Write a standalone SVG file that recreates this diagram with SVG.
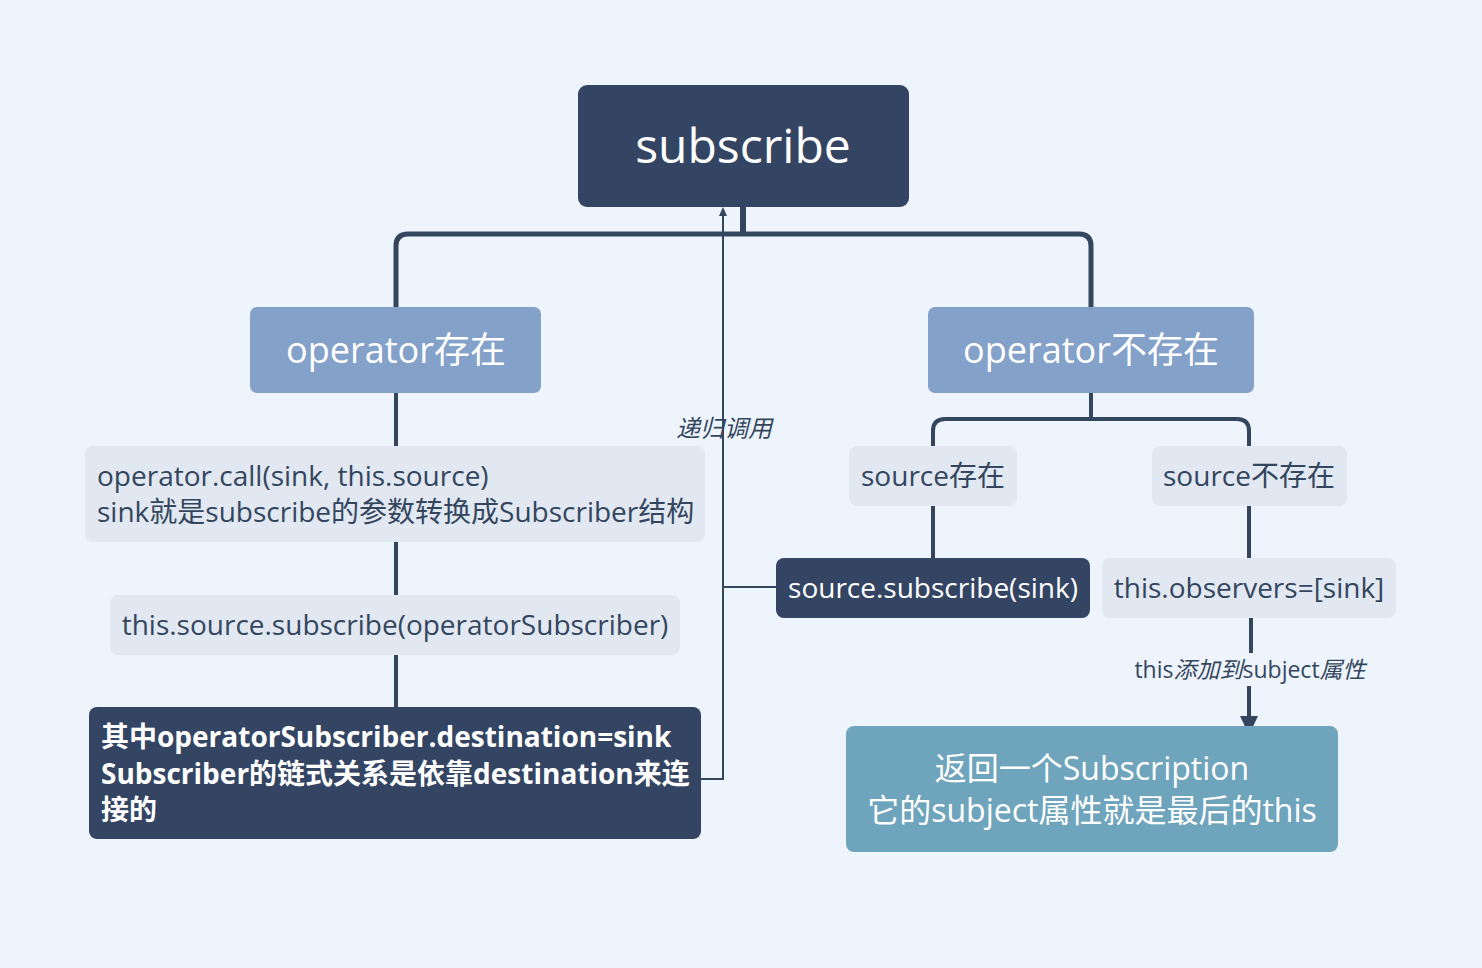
<svg xmlns="http://www.w3.org/2000/svg" width="1482" height="968" viewBox="0 0 1482 968">
<defs>
<style>
text{font-family:"Open Sans","Noto Sans CJK SC",sans-serif;}
.lt{fill:#E1E8F1;}
.dk{fill:#344563;}
.op{fill:#84A1CA;}
.tx{fill:#34465E;font-size:28px;}
.wt{fill:#FFFFFF;}
.ln{fill:none;stroke:#34465E;stroke-linecap:butt;}
.it{font-style:italic;}
</style>
</defs>
<rect width="1482" height="968" fill="#EDF4FB"/>
<g id="connectors">
<path class="ln" stroke-width="6" d="M743,207 V234"/>
<path class="ln" stroke-width="5" d="M396,307 V246 Q396,234 408,234 H1079 Q1091,234 1091,246 V307"/>
<path class="ln" stroke-width="4" d="M396,393 V446 M396,542 V595 M396,655 V707"/>
<path class="ln" stroke-width="4" d="M1091,393 V419 M933,446 V431 Q933,419 945,419 H1237 Q1249,419 1249,431 V446"/>
<path class="ln" stroke-width="4" d="M933,506 V558 M1249,506 V558"/>
<path class="ln" stroke-width="2" d="M701,779 H723 V216"/>
<path d="M719,216 L727,216 L723,207 Z" fill="#34465E"/>
<path class="ln" stroke-width="2" d="M776,587 H723"/>
<path class="ln" stroke-width="4" d="M1251,618 V653 M1249,686 V718"/>
<path d="M1240,716 L1258,716 L1249,735 Z" fill="#34465E"/>
<text x="724" y="437" text-anchor="middle" class="it" font-size="24" fill="#34465E">递归调用</text>
<text x="1250" y="678" text-anchor="middle" font-size="23" fill="#34465E">this<tspan class="it">添加到</tspan>subject<tspan class="it">属性</tspan></text>
</g>
<g id="root">
<rect x="578" y="85" width="331" height="122" rx="9" class="dk"/>
<text x="743" y="163" text-anchor="middle" font-size="48" class="wt">subscribe</text>
</g>
<g id="op-exists">
<rect x="250" y="307" width="291" height="86" rx="7" class="op"/>
<text x="396" y="363" text-anchor="middle" font-size="36" class="wt">operator存在</text>
</g>
<g id="op-not-exists">
<rect x="928" y="307" width="326" height="86" rx="7" class="op"/>
<text x="1091" y="363" text-anchor="middle" font-size="36" class="wt">operator不存在</text>
</g>
<g id="op-call">
<rect x="85" y="446" width="620" height="96" rx="8" class="lt"/>
<text x="97" y="486" class="tx">operator.call(sink, this.source)</text>
<text x="97" y="522" class="tx">sink就是subscribe的参数转换成Subscriber结构</text>
</g>
<g id="source-subscribe-op">
<rect x="110" y="595" width="570" height="60" rx="8" class="lt"/>
<text x="395" y="635" text-anchor="middle" class="tx">this.source.subscribe(operatorSubscriber)</text>
</g>
<g id="destination-note">
<rect x="89" y="707" width="612" height="132" rx="8" class="dk"/>
<text x="101" y="747" font-size="28" font-weight="bold" class="wt">其中operatorSubscriber.destination=sink</text>
<text x="101" y="784" font-size="28" font-weight="bold" class="wt">Subscriber的链式关系是依靠destination来连</text>
<text x="101" y="820" font-size="28" font-weight="bold" class="wt">接的</text>
</g>
<g id="source-exists">
<rect x="849" y="446" width="168" height="60" rx="8" class="lt"/>
<text x="933" y="486" text-anchor="middle" class="tx">source存在</text>
</g>
<g id="source-not-exists">
<rect x="1152" y="446" width="195" height="60" rx="8" class="lt"/>
<text x="1249" y="486" text-anchor="middle" class="tx">source不存在</text>
</g>
<g id="source-subscribe-sink">
<rect x="776" y="558" width="314" height="60" rx="8" class="dk"/>
<text x="933" y="598" text-anchor="middle" font-size="28" class="wt">source.subscribe(sink)</text>
</g>
<g id="observers">
<rect x="1102" y="558" width="294" height="60" rx="8" class="lt"/>
<text x="1249" y="598" text-anchor="middle" class="tx">this.observers=[sink]</text>
</g>
<g id="subscription">
<rect x="846" y="726" width="492" height="126" rx="8" fill="#6FA5BC"/>
<text x="1092" y="780" text-anchor="middle" font-size="32" class="wt">返回一个Subscription</text>
<text x="1092" y="822" text-anchor="middle" font-size="32" class="wt">它的subject属性就是最后的this</text>
</g>
</svg>
